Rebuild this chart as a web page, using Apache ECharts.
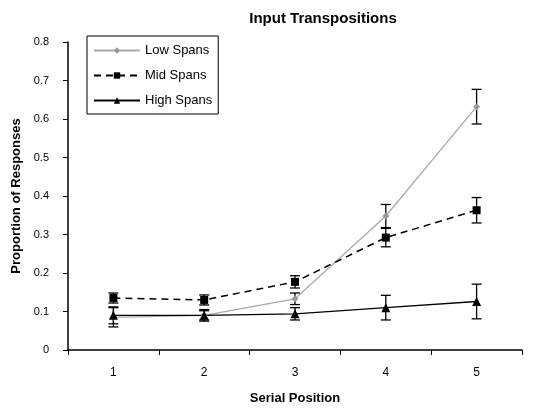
<!DOCTYPE html>
<html><head><meta charset="utf-8">
<script src="https://cdn.jsdelivr.net/npm/echarts@6/dist/echarts.min.js"></script>
<style>html,body{margin:0;padding:0;background:#fff}#c{width:555px;height:408px}</style>
</head><body><div id="c"></div>
<script>
var categories = ['1','2','3','4','5'];
var lowSpans = [0.085, 0.09, 0.133, 0.348, 0.632];
var midSpans = [0.135, 0.13, 0.177, 0.292, 0.363];
var highSpans = [0.09, 0.09, 0.094, 0.11, 0.126];
var lowErr = [0.025, 0.012, 0.015, 0.03, 0.045];
var midErr = [0.013, 0.013, 0.016, 0.024, 0.033];
var highErr = [0.022, 0.015, 0.016, 0.032, 0.045];
var yTicks = [0, 0.1, 0.2, 0.3, 0.4, 0.5, 0.6, 0.7, 0.8];

function errData(vals, errs){
  return vals.map(function(v,i){ return [i, v - errs[i], v + errs[i]]; });
}
function errSeries(vals, errs, color){
  return {
    type:'custom', silent:true, z:1,
    data: errData(vals, errs),
    renderItem: function(params, api){
      var x = api.value(0);
      var lo = api.coord([x, api.value(1)]);
      var hi = api.coord([x, api.value(2)]);
      var w = 5;
      var st = {stroke: color, lineWidth: 1.3};
      return {type:'group', children:[
        {type:'line', shape:{x1:lo[0],y1:lo[1],x2:hi[0],y2:hi[1]}, style:st},
        {type:'line', shape:{x1:lo[0]-w,y1:lo[1],x2:lo[0]+w,y2:lo[1]}, style:st},
        {type:'line', shape:{x1:hi[0]-w,y1:hi[1],x2:hi[0]+w,y2:hi[1]}, style:st}
      ]};
    }
  };
}
var chart = echarts.init(document.getElementById('c'));
var ff = 'Liberation Sans, Arial, sans-serif';
chart.setOption({
  animation:false,
  backgroundColor:'#fff',
  title:{text:'Input Transpositions', left:318, top:6, textAlign:'center',
    textStyle:{fontFamily:ff, fontSize:15, fontWeight:'bold', color:'#000'}},
  legend:{
    left:87, top:36, orient:'vertical', itemWidth:46, itemHeight:8, itemGap:12,
    padding:[8,6,7,6], borderColor:'#000', borderWidth:1, borderRadius:0,
    backgroundColor:'#fff',
    textStyle:{fontFamily:ff, fontSize:13, color:'#000'},
    data:['Low Spans','Mid Spans','High Spans']
  },
  grid:{left:68, right:33, top:42, bottom:58, containLabel:false, outerBoundsMode:'none'},
  xAxis:{
    type:'category', data:categories, boundaryGap:true,
    name:'Serial Position', nameLocation:'middle', nameGap:42,
    nameTextStyle:{fontFamily:ff, fontSize:13, fontWeight:'bold', color:'#000'},
    axisLine:{lineStyle:{color:'#000', width:1.5}},
    axisTick:{show:true, length:5, alignWithLabel:false, lineStyle:{color:'#000'}},
    axisLabel:{fontFamily:ff, fontSize:12, color:'#000', margin:17},
    splitLine:{show:false}
  },
  yAxis:{
    type:'value', min:0, max:0.8, interval:0.1,
    name:'Proportion of Responses', nameLocation:'middle', nameGap:43,
    nameTextStyle:{fontFamily:ff, fontSize:13, fontWeight:'bold', color:'#000'},
    axisLine:{show:true, lineStyle:{color:'#000', width:1.5}},
    axisTick:{show:true, length:5, lineStyle:{color:'#000'}},
    axisLabel:{fontFamily:ff, fontSize:11, color:'#000', margin:19,
      formatter:function(v){ return String(Math.round(v*10)/10); }},
    splitLine:{show:false}
  },
  series:[
    errSeries(lowSpans, lowErr, '#000'),
    errSeries(midSpans, midErr, '#000'),
    errSeries(highSpans, highErr, '#000'),
    {name:'Low Spans', type:'line', data:lowSpans, z:3,
      symbol:'diamond', symbolSize:7, color:'#999',
      lineStyle:{color:'#aaa', width:1.3}, itemStyle:{color:'#999'}},
    {name:'Mid Spans', type:'line', data:midSpans, z:3,
      symbol:'rect', symbolSize:8, color:'#000',
      lineStyle:{color:'#000', width:1.5, type:[7,5]}, itemStyle:{color:'#000'}},
    {name:'High Spans', type:'line', data:highSpans, z:3,
      symbol:'triangle', symbolSize:9, color:'#000',
      lineStyle:{color:'#000', width:1.3}, itemStyle:{color:'#000'}}
  ]
});
</script></body></html>
